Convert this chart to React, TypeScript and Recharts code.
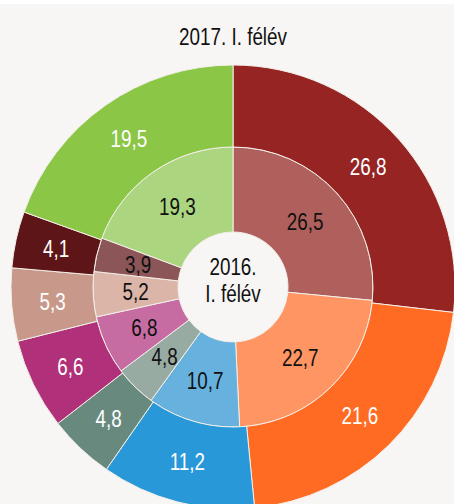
import { PieChart, Pie, Cell } from "recharts";

// 2016. I. félév (inner ring) and 2017. I. félév (outer ring), clockwise from 12 o'clock
const categories = ["a", "b", "c", "d", "e", "f", "g", "h"];
const values2016 = [26.5, 22.7, 10.7, 4.8, 6.8, 5.2, 3.9, 19.3];
const values2017 = [26.8, 21.6, 11.2, 4.8, 6.6, 5.3, 4.1, 19.5];

const outerColors = ["#952423", "#ff6b22", "#2898d8", "#688a7e", "#b03079", "#c8988a", "#5e1517", "#8bc646"];
const innerColors = ["#b0605c", "#ff9563", "#67b1df", "#98aba2", "#c76ba3", "#dbb5a8", "#8c5558", "#acd580"];

const innerData = categories.map((name, i) => ({ name, value: values2016[i] }));
const outerData = categories.map((name, i) => ({ name, value: values2017[i] }));

const FONT = "'Liberation Sans Narrow', 'Liberation Sans', sans-serif";
const RAD = Math.PI / 180;

const fmt = (v: number) => v.toFixed(1).replace(".", ",");

// narrow text: squeeze horizontally, the reference uses a condensed face
function NarrowText({ x, y, fill, children }: { x: number; y: number; fill: string; children: any }) {
  return (
    <text transform={`translate(${x},${y}) scale(0.82,1)`} fill={fill} textAnchor="middle"
      dominantBaseline="central" fontSize={23} fontFamily={FONT}>
      {children}
    </text>
  );
}

function makeLabel(fill: string) {
  return (props: any) => {
    const { cx, cy, midAngle, innerRadius, outerRadius, value } = props;
    const r = (innerRadius + outerRadius) / 2;
    const x = cx + r * Math.cos(-midAngle * RAD);
    const y = cy + r * Math.sin(-midAngle * RAD);
    return <NarrowText x={x} y={y} fill={fill}>{fmt(value)}</NarrowText>;
  };
}

export default function App() {
  return (
    <div style={{ position: "absolute", left: 0, top: 0, width: 454, height: 504, background: "#f7f6f4", overflow: "hidden" }}>
      <div style={{ position: "absolute", left: 0, top: 0, width: 454, height: 4, background: "#fff" }} />
      <PieChart width={454} height={504} margin={{ top: 0, right: 0, bottom: 0, left: 0 }}
        style={{ position: "absolute", left: 0, top: 0 }}>
        <NarrowText x={233} y={37} fill="#111">2017. I. félév</NarrowText>
        <Pie data={innerData} dataKey="value" cx={233} cy={287} innerRadius={55} outerRadius={140}
          startAngle={90} endAngle={-270} stroke="#f3efe9" strokeWidth={1}
          label={makeLabel("#111")} labelLine={false} isAnimationActive={false}>
          {innerData.map((d, i) => <Cell key={d.name} fill={innerColors[i]} />)}
        </Pie>
        <Pie data={outerData} dataKey="value" cx={233} cy={287} innerRadius={140} outerRadius={222}
          startAngle={90} endAngle={-270} stroke="#f3efe9" strokeWidth={1}
          label={makeLabel("#fff")} labelLine={false} isAnimationActive={false}>
          {outerData.map((d, i) => <Cell key={d.name} fill={outerColors[i]} />)}
        </Pie>
        <NarrowText x={233} y={267} fill="#111">2016.</NarrowText>
        <NarrowText x={233} y={294} fill="#111">I. félév</NarrowText>
      </PieChart>
    </div>
  );
}
